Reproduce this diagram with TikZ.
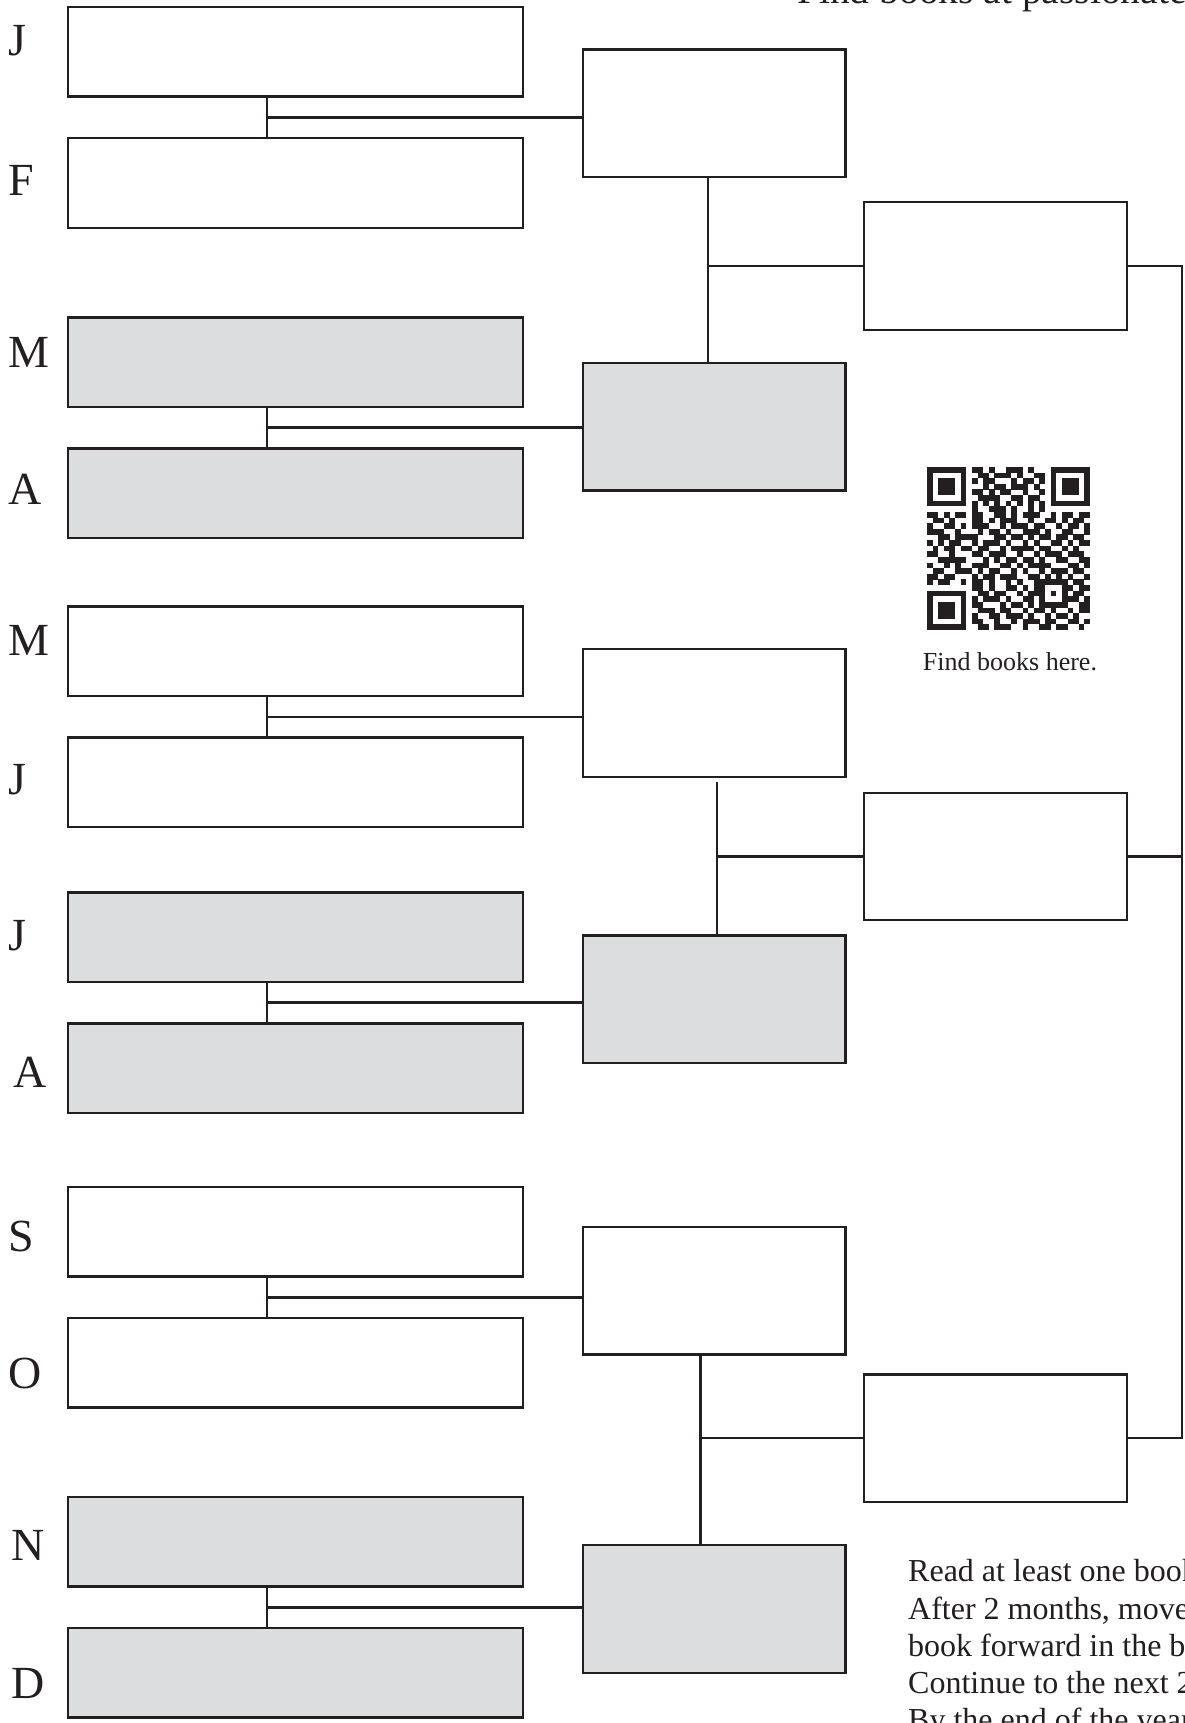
\documentclass[tikz,border=0pt]{standalone}
\usepackage{fontspec}
\setmainfont{Liberation Serif}
\usetikzlibrary{calc}
\definecolor{ink}{HTML}{231F20}
\definecolor{boxgray}{RGB}{220,221,223}
\newcount\qrc
\def\qrstop{QRSTOP}
\newcommand\qrline[2]{\qrc=0 \def\qrrow{#1}\qrscan#2\qrstop}
\def\qrscan#1{\ifx#1\qrstop\else\ifnum#1=1 \fill[ink] ({927+\the\qrc*5.62},{467+\qrrow*5.62}) rectangle ++(5.72,5.72);\fi\advance\qrc by 1 \expandafter\qrscan\fi}
\begin{document}
\begin{tikzpicture}[x=1pt,y=-1pt,
  box/.style={draw=ink, line width=2.4pt, inner sep=0pt, outer sep=0pt, fill=white},
  lbox/.style={box, minimum width=455pt, minimum height=89.5pt},
  mbox/.style={box, minimum width=262.7pt, minimum height=127.5pt},
  gbox/.style={fill=boxgray},
  conn/.style={draw=ink, line width=2.4pt, line join=miter},
  month/.style={anchor=base west, inner sep=0pt, text=ink, font=\fontsize{46}{50}\selectfont},
  note/.style={anchor=base west, inner sep=0pt, text=ink, font=\fontsize{32}{37}\selectfont},
]
\useasboundingbox (0,0) rectangle (1184,1723);
\clip (0,0) rectangle (1184,1723);
\fill[white] (0,0) rectangle (1184,1723);

% month boxes
\node[lbox] (jan) at (295.75,51.65) {};
\node[lbox] (feb) at (295.75,183.05) {};
\node[lbox,gbox] (mar) at (295.75,362.25) {};
\node[lbox,gbox] (apr) at (295.75,493.1) {};
\node[lbox] (may) at (295.75,651.4) {};
\node[lbox] (jun) at (295.75,782.2) {};
\node[lbox,gbox] (jul) at (295.75,937.25) {};
\node[lbox,gbox] (aug) at (295.75,1068.05) {};
\node[lbox] (sep) at (295.75,1231.9) {};
\node[lbox] (oct) at (295.75,1362.7) {};
\node[lbox,gbox] (nov) at (295.75,1541.9) {};
\node[lbox,gbox] (dec) at (295.75,1672.75) {};

% month letters
\node[month] (lj1) at (8.8,56) {J};
\node[month] (lf) at (8.8,195.7) {F};
\node[month] (lm1) at (8.8,367.2) {M};
\node[month] (la1) at (8.8,504.6) {A};
\node[month] (lm2) at (8.8,655.2) {M};
\node[month] (lj2) at (8.8,794) {J};
\node[month] (lj3) at (8.8,950) {J};
\node[month] (la2) at (13.2,1087.3) {A};
\node[month] (ls) at (8.8,1251.1) {S};
\node[month] (lo) at (8.8,1388) {O};
\node[month] (ln) at (11.7,1560) {N};
\node[month] (ld) at (11.7,1698) {D};

% second round
\node[mbox] (jf) at (714.05,113.25) {};
\node[mbox,gbox] (ma) at (714.05,426.55) {};
\node[mbox] (mj) at (714.05,712.95) {};
\node[mbox,gbox] (ja) at (714.05,999.35) {};
\node[mbox] (so) at (714.05,1290.7) {};
\node[mbox,gbox] (nd) at (714.05,1609) {};

% third round
\node[mbox] (q1) at (995.5,266.05) {};
\node[mbox] (q2) at (995.5,856.45) {};
\node[mbox] (q3) at (995.5,1438.05) {};

% pair connectors
\coordinate (px) at (267.2,0);
\foreach \a/\b/\c in {jan/feb/jf, mar/apr/ma, may/jun/mj, jul/aug/ja, sep/oct/so, nov/dec/nd}{
  \draw[conn] (\a.south -| px) -- (\b.north -| px);
  \coordinate (mid) at ($(\a.south)!0.5!(\b.north)$);
  \draw[conn] (mid -| px) -- (mid -| \c.west);
}

% second to third round
\coordinate (v1) at (708,0);
\draw[conn] (jf.south -| v1) -- (ma.north -| v1);
\draw[conn] (q1.west -| v1) -- (q1.west);
\coordinate (v2) at (716.8,781.7);
\draw[conn] (v2) -- (ja.north -| v2);
\draw[conn] (q2.west -| v2) -- (q2.west);
\coordinate (v3) at (700.3,0);
\draw[conn] (so.south -| v3) -- (nd.north -| v3);
\draw[conn] (q3.west -| v3) -- (q3.west);

% final connectors
\coordinate (rx) at (1182,0);
\draw[conn] (q1.east) -- (q1.east -| rx) -- (q3.east -| rx) -- (q3.east);
\draw[conn] (q2.east) -- (q2.east -| rx);

% QR code
\qrline{0}{1111111 0 1101001110100 0 1111111}
\qrline{1}{1000001 0 0110111010011 0 1000001}
\qrline{2}{1011101 0 1011000101101 0 1011101}
\qrline{3}{1011101 0 0010110111010 0 1011101}
\qrline{4}{1011101 0 1101011001001 0 1011101}
\qrline{5}{1000001 0 0111100110110 0 1000001}
\qrline{6}{1111111 0 1010101010101 0 1111111}
\qrline{7}{00000000 1001110100101 00000000}
\qrline{8}{11010110110011010111001011011}
\qrline{9}{01101000110101110010011010110}
\qrline{10}{10011010111001011101100101101}
\qrline{11}{11100100010110100111010011001}
\qrline{12}{00110111100011011010110110110}
\qrline{13}{10101100101110100101001101011}
\qrline{14}{01011011011001011110110010100}
\qrline{15}{11001000110111001001011101110}
\qrline{16}{00111110001010110110100110011}
\qrline{17}{10010100111001101011110001101}
\qrline{18}{01100111010110010100101110110}
\qrline{19}{11011000101101110011010101001}
\qrline{20}{10110010110100101001 11111 0110}
\qrline{21}{00000000 110100110101 10001 1011}
\qrline{22}{1111111 0 011011001011 10101 0110}
\qrline{23}{1000001 0 101110100110 10001 1101}
\qrline{24}{1011101 0 110001011010 11111 0011}
\qrline{25}{1011101 0 011101100101101001011}
\qrline{26}{1011101 0 100110111010010110100}
\qrline{27}{1000001 0 110010010111011001101}
\qrline{28}{1111111 0 011011100100110110010}

\node[anchor=base, inner sep=0pt, text=ink, font=\fontsize{26}{30}\selectfont] (cap) at (1010,670) {Find books here.};

% texts
\node[anchor=base west, inner sep=0pt, text=ink, font=\fontsize{39.5}{44}\selectfont] (top) at (797,3.5) {Find books at passionate};
\node[note] (t1) at (908,1581.7) {Read at least one book};
\node[note] (t2) at (908,1619.0) {After 2 months, move};
\node[note] (t3) at (908,1656.3) {book forward in the b};
\node[note] (t4) at (908,1693.6) {Continue to the next 2};
\node[note] (t5) at (908,1730.9) {By the end of the year};
\end{tikzpicture}
\end{document}
